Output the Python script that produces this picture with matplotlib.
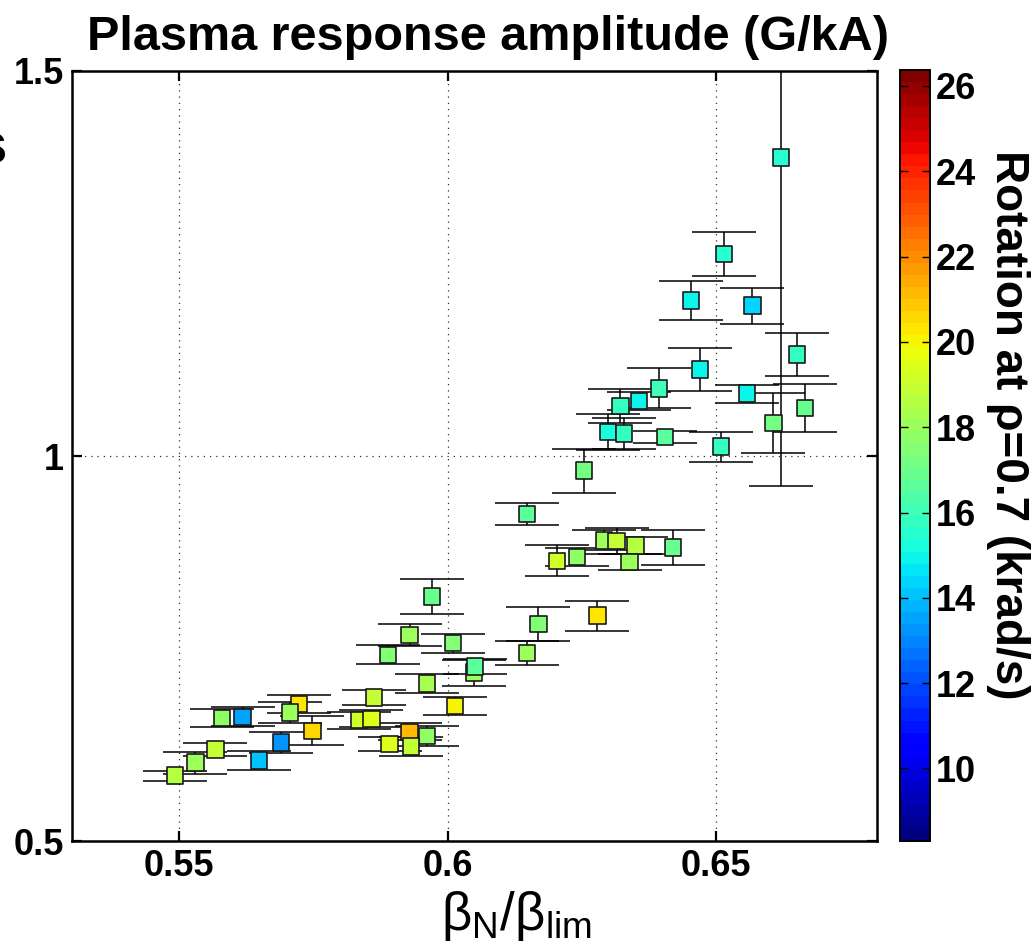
import matplotlib
matplotlib.use("Agg")
import matplotlib.pyplot as plt
from matplotlib.colors import Normalize
import numpy as np

# ---- data ----
beta_ratio = [0.5971, 0.5929, 0.6010, 0.5889, 0.6049, 0.6051, 0.5961, 0.5863, 0.6014, 0.5723,
              0.5706, 0.5580, 0.5618, 0.5748, 0.5835, 0.5858, 0.5929, 0.5961, 0.5892, 0.5932,
              0.5689, 0.5567, 0.5648, 0.5530, 0.5492, 0.6254, 0.6148, 0.6291, 0.6315, 0.6350,
              0.6420, 0.6204, 0.6241, 0.6339, 0.6279, 0.6169, 0.6148, 0.6621, 0.6515, 0.6453,
              0.6568, 0.6651, 0.6470, 0.6394, 0.6356, 0.6322, 0.6558, 0.6666, 0.6607, 0.6299,
              0.6329, 0.6405, 0.6509]
amplitude = [0.8173, 0.7675, 0.7568, 0.7419, 0.7186, 0.7264, 0.7048, 0.6861, 0.6753, 0.6779,
             0.6671, 0.6597, 0.6614, 0.6429, 0.6571, 0.6588, 0.6416, 0.6364, 0.6260, 0.6225,
             0.6277, 0.6191, 0.6043, 0.6017, 0.5848, 0.9809, 0.9247, 0.8905, 0.8896, 0.8835,
             0.8814, 0.8640, 0.8688, 0.8623, 0.7926, 0.7818, 0.7442, 1.3874, 1.2623, 1.2017,
             1.1952, 1.1316, 1.1121, 1.0879, 1.0714, 1.0653, 1.0809, 1.0623, 1.0429, 1.0312,
             1.0290, 1.0247, 1.0121]
amp_err = [0.023, 0.014, 0.0125, 0.0123, 0.017, 0.0097, 0.0126, 0.0095, 0.0123, 0.012,
           0.0136, 0.0115, 0.012, 0.0188, 0.011, 0.011, 0.011, 0.013, 0.0093, 0.012,
           0.014, 0.0087, 0.012, 0.0143, 0.0063, 0.0286, 0.014, 0.013, 0.017, 0.011,
           0.023, 0.020, 0.012, 0.011, 0.0195, 0.0216, 0.016, 0.427, 0.028, 0.025,
           0.0234, 0.0277, 0.028, 0.026, 0.012, 0.022, 0.0117, 0.031, 0.0385, 0.023,
           0.020, 0.0075, 0.0195]
rotation = [16.8, 18.1, 17.4, 17.5, 18.0, 16.6, 18.3, 19.0, 19.9, 20.4,
            18.1, 17.7, 13.4, 20.6, 19.1, 19.4, 21.1, 17.9, 19.4, 18.9,
            13.2, 19.0, 14.2, 18.1, 18.7, 17.2, 16.7, 18.1, 18.8, 18.7,
            16.9, 19.3, 17.7, 18.1, 20.2, 17.5, 18.1, 15.4, 15.6, 15.0,
            14.5, 15.9, 14.8, 16.1, 14.8, 15.9, 14.9, 16.9, 17.1, 15.3,
            15.9, 16.5, 15.9]

x_ticks = [0.55, 0.6, 0.65]
x_ticklabels = ["0.55", "0.6", "0.65"]
y_ticks = [0.5, 1.0, 1.5]
y_ticklabels = ["0.5", "1", "1.5"]
cb_ticks = [10, 12, 14, 16, 18, 20, 22, 24, 26]
rot_min, rot_max = 8.30, 26.375

title = "Plasma response amplitude (G/kA)"
cb_label = "Rotation at \u03c1=0.7 (krad/s)"
x_label = r"$\mathregular{\beta_N/\beta_{lim}}$"

# ---- style ----
plt.rcParams['font.family'] = ['Liberation Sans', 'DejaVu Sans']
plt.rcParams['mathtext.fontset'] = 'custom'
plt.rcParams['mathtext.rm'] = 'Liberation Sans'

W, H = 1032, 947
fig = plt.figure(figsize=(W / 100, H / 100), dpi=100)
ax = fig.add_axes([72 / W, 1 - 841 / H, (877 - 72) / W, (841 - 71) / H])
cax = fig.add_axes([900 / W, 1 - 841 / H, 30 / W, (841 - 70) / H])

cmap = plt.get_cmap('jet', 64)
norm = Normalize(rot_min, rot_max)

ax.errorbar(beta_ratio, amplitude, yerr=amp_err, fmt='none', ecolor='black',
            elinewidth=1.1, capsize=23, capthick=1.1, zorder=2)
sc = ax.scatter(beta_ratio, amplitude, c=rotation, cmap=cmap, norm=norm, marker='s',
                s=140, edgecolors='#1a1a1a', linewidths=1.2, zorder=3)

ax.set_xlim(0.53, 0.68)
ax.set_ylim(0.5, 1.5)
ax.set_xticks(x_ticks)
ax.set_xticklabels(x_ticklabels)
ax.set_yticks(y_ticks)
ax.set_yticklabels(y_ticklabels)
ax.grid(True, linestyle=(0, (1, 4)), color='#333333', linewidth=0.9)
ax.tick_params(direction='in', length=7, width=1.6, top=True, right=True,
               labelsize=26, pad=6)
for lab in ax.get_xticklabels() + ax.get_yticklabels():
    lab.set_fontweight('bold')
for sp in ax.spines.values():
    sp.set_linewidth(1.8)

cb = fig.colorbar(sc, cax=cax, ticks=cb_ticks)
cb.outline.set_linewidth(1.4)
cax.yaxis.set_ticks_position('both')
cax.tick_params(direction='in', length=6, width=1.0, labelsize=26, pad=4,
                labelleft=False, labelright=True)
for lab in cax.get_yticklabels():
    lab.set_fontweight('bold')

fig.text(488 / W, 1 - 37 / H, title, ha='center', va='center', fontsize=35,
         fontweight='bold')
fig.text(1008 / W, 1 - 425 / H, cb_label, ha='center', va='center', rotation=270,
         fontsize=33, fontweight='bold')
fig.text(517 / W, 1 - 916 / H, x_label, ha='center', va='center', fontsize=38)
fig.text(7 / W, 1 - 148 / H, "s", ha='right', va='center', fontsize=42,
         fontweight='bold')

fig.savefig("out.png", dpi=100)
